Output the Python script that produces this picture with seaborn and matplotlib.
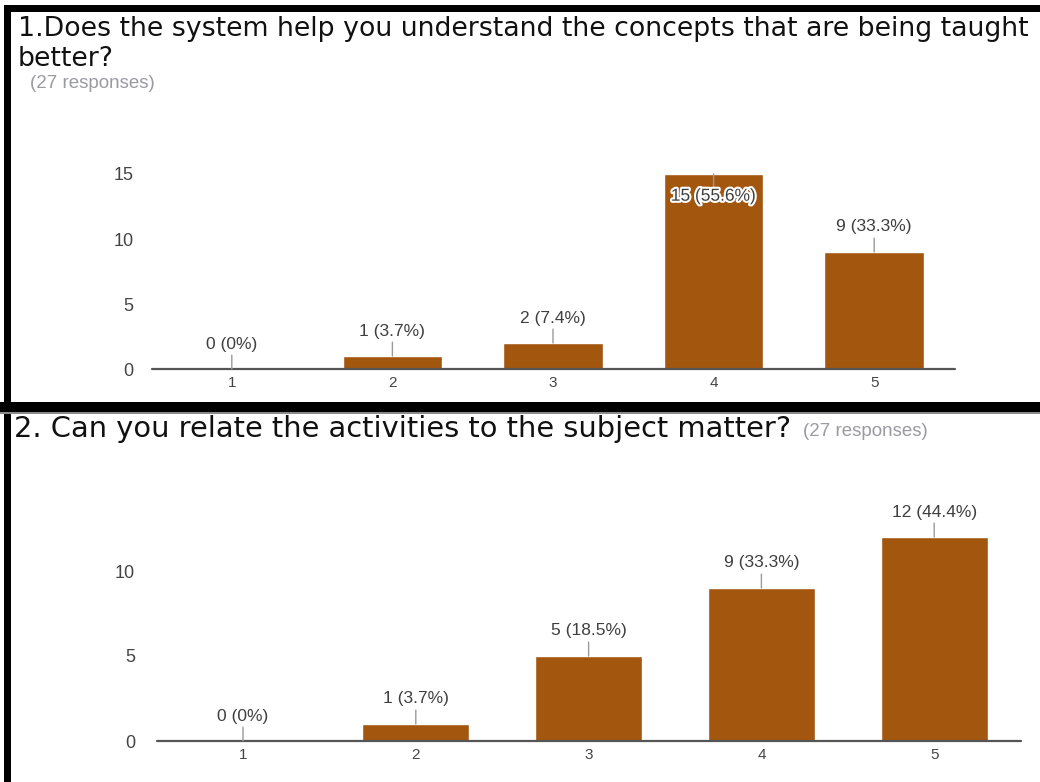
import matplotlib
matplotlib.use("Agg")
import matplotlib.pyplot as plt
import matplotlib.patheffects as pe
from matplotlib.patches import Rectangle
import seaborn as sns
import pandas as pd

# ---- survey data -------------------------------------------------------
ratings = ["1", "2", "3", "4", "5"]
q1_counts = [0, 1, 2, 15, 9]
q2_counts = [0, 1, 5, 9, 12]
total_responses = 27

q1_title_lines = ["1.Does the system help you understand the concepts that are being taught",
                  "better?"]
q2_title = "2. Can you relate the activities to the subject matter?"
responses_label = f"({total_responses} responses)"
q1_yticks = [0, 5, 10, 15]
q2_yticks = [0, 5, 10]

# ---- styling -----------------------------------------------------------
W, H = 1040, 782
BAR_COLOR = "#A3570E"
TEXT_DARK = "#3f3f3f"
TICK_COLOR = "#444444"
LEADER = "#9a9a9a"
BASELINE = "#555555"
RESP_COLOR = "#9a9aa2"
TITLE_FONT = "DejaVu Sans"
LABEL_FONT = "Liberation Sans"

sns.set_theme(style="white")
plt.rcParams["font.family"] = [LABEL_FONT, "DejaVu Sans"]

fig = plt.figure(figsize=(W / 100, H / 100), dpi=100)
fig.patch.set_facecolor("white")


def fx(x):
    return x / W


def fy(y):
    return 1 - y / H


def px_rect(x0, y0, x1, y1, color):
    fig.add_artist(Rectangle((fx(x0), fy(y1)), fx(x1) - fx(x0), fy(y0) - fy(y1),
                             transform=fig.transFigure, facecolor=color,
                             edgecolor="none", zorder=10))


def add_axes_px(left, top, right, bottom):
    return fig.add_axes([fx(left), fy(bottom), fx(right) - fx(left), fy(top) - fy(bottom)])


def pct_text(n):
    pct = f"{n / total_responses * 100:.1f}".rstrip("0").rstrip(".")
    return f"{n} ({pct}%)"


def draw_panel(ax, counts, ymax, yticks, ytick_pad):
    df = pd.DataFrame({"rating": ratings, "count": counts})
    sns.barplot(data=df, x="rating", y="count", color=BAR_COLOR, width=0.62,
                saturation=1, ax=ax, zorder=2)
    ax.set_xlim(-0.5, len(ratings) - 0.5)
    ax.set_ylim(0, ymax)
    ax.set_yticks(yticks)
    ax.set_xlabel("")
    ax.set_ylabel("")
    for s in ax.spines.values():
        s.set_visible(False)
    ax.axhline(0, color=BASELINE, lw=1.6, zorder=3, clip_on=False)
    ax.tick_params(axis="y", length=0, pad=ytick_pad, labelsize=13, labelcolor=TICK_COLOR)
    ax.tick_params(axis="x", length=0, pad=5, labelsize=11, labelcolor=TICK_COLOR)
    ax.set_facecolor("none")
    ax.grid(False)

    for i, v in enumerate(counts):
        label = pct_text(v)
        if v >= ymax:
            # value reaches the top of the plot area: label sits inside the bar
            ax.annotate("", xy=(i, v), xytext=(0, -11), textcoords="offset points",
                        arrowprops=dict(arrowstyle="-", color=LEADER, lw=1,
                                        shrinkA=0, shrinkB=0), zorder=4)
            ax.annotate(label, xy=(i, v), xytext=(0, -16), textcoords="offset points",
                        ha="center", va="center", fontsize=12.5, color=TEXT_DARK,
                        path_effects=[pe.withStroke(linewidth=3, foreground="white")],
                        zorder=5, annotation_clip=False)
        else:
            ax.annotate("", xy=(i, v), xytext=(0, 10), textcoords="offset points",
                        arrowprops=dict(arrowstyle="-", color=LEADER, lw=1,
                                        shrinkA=0, shrinkB=0), zorder=4,
                        annotation_clip=False)
            ax.annotate(label, xy=(i, v), xytext=(0, 18), textcoords="offset points",
                        ha="center", va="center", fontsize=12.5, color=TEXT_DARK,
                        zorder=5, annotation_clip=False)


# ---- panel 1 -----------------------------------------------------------
ax1 = add_axes_px(151.5, 174, 954.5, 369)
draw_panel(ax1, q1_counts, 15, q1_yticks, 13)

# ---- panel 2 -----------------------------------------------------------
ax2 = add_axes_px(156.6, 503, 1020.6, 741)
draw_panel(ax2, q2_counts, 14, q2_yticks, 15.5)

# ---- titles ------------------------------------------------------------
fig.text(fx(18), fy(36.5), q1_title_lines[0], fontsize=19.3, family=TITLE_FONT,
         color="#111111", ha="left", va="baseline")
fig.text(fx(18), fy(66), q1_title_lines[1], fontsize=19.3, family=TITLE_FONT,
         color="#111111", ha="left", va="baseline")
fig.text(fx(30), fy(83), responses_label, fontsize=13.5, color=RESP_COLOR,
         ha="left", va="center")

fig.text(fx(14), fy(437), q2_title, fontsize=20.8, family=TITLE_FONT,
         color="#111111", ha="left", va="baseline")
fig.text(fx(803), fy(436), responses_label, fontsize=13.5, color=RESP_COLOR,
         ha="left", va="baseline")

# ---- frame lines -------------------------------------------------------
px_rect(5, 5, W, 12, "black")        # top border
px_rect(4, 5, 11, H, "black")        # left border
px_rect(0, 402, W, 412, "black")     # separator band
px_rect(0, 412, W, 413.5, "#8a8a8a")

fig.savefig("out.png", dpi=100, facecolor="white")
